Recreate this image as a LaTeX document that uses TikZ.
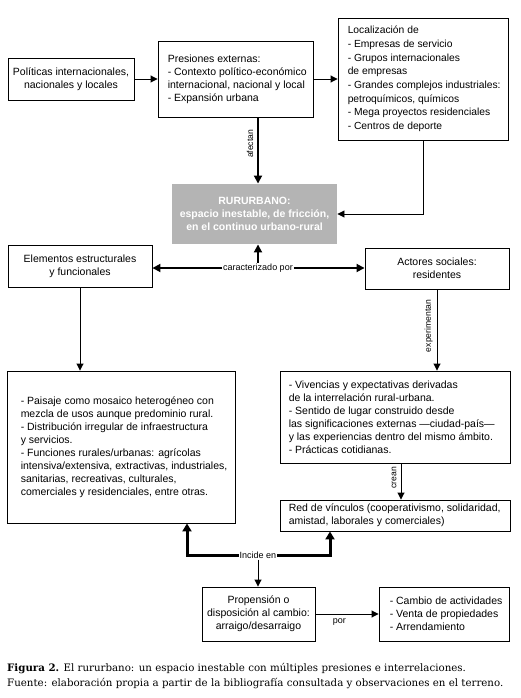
\documentclass[tikz,border=0pt]{standalone}
\usepackage{fontspec}
\setmainfont{Liberation Sans}
\newfontfamily\capfont{DejaVu Serif}
\usetikzlibrary{arrows.meta,calc}
\definecolor{rurgray}{RGB}{180,180,180}
\newcommand\fsz{\fontsize{10.5}{13}\selectfont}
\newcommand\lsz{\fontsize{9}{10}\selectfont}
\begin{document}
\begin{tikzpicture}[x=1pt,y=-1pt,
  box/.style={draw,line width=0.9pt,inner sep=0pt,font=\fsz,align=center},
  txt/.style={inner sep=0pt,font=\fsz,align=left,anchor=west},
  arr/.style={line width=0.9pt,-{Triangle[length=7pt,width=7pt]}},
  marr/.style={line width=1.8pt,-{Triangle[length=8pt,width=8pt]}},
  tarr/.style={line width=3pt,-{Triangle[length=8pt,width=9pt]}},
  lbl/.style={font=\lsz,inner sep=1pt},
  rlbl/.style={font=\fontsize{8.6}{10}\selectfont,inner xsep=1pt,inner ysep=4pt,rotate=90,anchor=south}]
\useasboundingbox (0,0) rectangle (520,698);

% boxes
\node[box,minimum width=126pt,minimum height=42pt] (pol) at (71,79) {Políticas internacionales,\\nacionales y locales};
\node[box,minimum width=155pt,minimum height=76pt] (pres) at (235.5,79) {};
\node[txt] (prest) at ($(pres.west)+(10,0)$) {Presiones externas:\\- Contexto político-económico\\internacional, nacional y local\\- Expansión urbana};
\node[box,minimum width=170pt,minimum height=122pt] (loc) at (423,79) {};
\node[txt,font=\fontsize{10.3}{13.7}\selectfont] (loct) at ($(loc.west)+(10,0)$) {Localización de\\- Empresas de servicio\\- Grupos internacionales\\de empresas\\- Grandes complejos industriales:\\petroquímicos, químicos\\- Mega proyectos residenciales\\- Centros de deporte};

\node[box,draw=none,fill=rurgray,text=white,font=\fsz\bfseries,minimum width=165pt,minimum height=60pt] (rur) at (254.5,214) {RURURBANO:\\espacio inestable, de fricción,\\en el continuo urbano-rural};

\node[box,minimum width=144pt,minimum height=42pt] (elem) at (80,266) {Elementos estructurales\\y funcionales};
\node[box,minimum width=144pt,minimum height=41pt] (act) at (437,268.5) {Actores sociales:\\residentes};

\node[box,minimum width=228pt,minimum height=152pt] (big) at (121,447) {};
\node[txt] (bigt) at ($(big.west)+(14,0)$) {- Paisaje como mosaico heterogéneo con\\mezcla de usos aunque predominio rural.\\- Distribución irregular de infraestructura\\y servicios.\\- Funciones rurales/urbanas: agrícolas\\intensiva/extensiva, extractivas, industriales,\\sanitarias, recreativas, culturales,\\comerciales y residenciales, entre otras.};

\node[box,minimum width=230pt,minimum height=92pt] (viv) at (395,417) {};
\node[txt] (vivt) at ($(viv.west)+(9,0)$) {- Vivencias y expectativas derivadas\\de la interrelación rural-urbana.\\- Sentido de lugar construido desde\\las significaciones externas ---ciudad-país---\\y las experiencias dentro del mismo ámbito.\\- Prácticas cotidianas.};

\node[box,minimum width=230pt,minimum height=31pt] (red) at (395,515.5) {};
\node[txt] (redt) at ($(red.west)+(9,0)$) {Red de vínculos (cooperativismo, solidaridad,\\amistad, laborales y comerciales)};

\node[box,minimum width=113pt,minimum height=54pt] (prop) at (258.5,614) {Propensión o\\disposición al cambio:\\arraigo/desarraigo};
\node[box,minimum width=130pt,minimum height=54pt] (cam) at (444,614) {};
\node[txt] (camt) at ($(cam.west)+(11,0)$) {- Cambio de actividades\\- Venta de propiedades\\- Arrendamiento};

% connectors
\draw[arr] (pol) -- (pres);
\draw[arr] (pres) -- (loc);
\coordinate (cx) at (258,0);
\draw[marr] (pres.south -| cx) -- node[rlbl,pos=0.4] {afectan} (rur.north -| cx);
\draw[arr] (loc.south) |- (rur.east);

\node[lbl] (car) at (258,268) {caracterizado por};
\draw[marr] (car.north -| cx) -- (rur.south -| cx);
\draw[marr] (car.west) -- (car.west -| elem.east);
\draw[marr] (car.east) -- (car.east -| act.west);

\draw[arr] (elem.south) -- (elem.south |- big.north);
\draw[arr] (act.south) -- node[rlbl,pos=0.45] {experimentan} (act.south |- viv.north);
\coordinate (cr) at (401,0);
\draw[arr] (viv.south -| cr) -- node[rlbl,pos=0.4] {crean} (red.north -| cr);

\node[lbl] (inc) at (258,555) {Incide en};
\coordinate (il) at (187,0);
\coordinate (ir) at (330,0);
\draw[tarr] (inc.west) -| (big.south -| il);
\draw[tarr] (inc.east) -| (red.south -| ir);
\draw[arr] (inc.south -| cx) -- (prop.north -| cx);

\draw[arr] (prop) -- node[lbl,below=3pt,pos=0.38] {por} (cam);

% caption
\node[inner sep=0pt,anchor=west,align=left,font=\capfont\fontsize{10.25}{15}\selectfont] (cap) at (7,676) {\textbf{Figura 2.} El rururbano: un espacio inestable con múltiples presiones e interrelaciones.\\Fuente: elaboración propia a partir de la bibliografía consultada y observaciones en el terreno.};
\end{tikzpicture}
\end{document}
